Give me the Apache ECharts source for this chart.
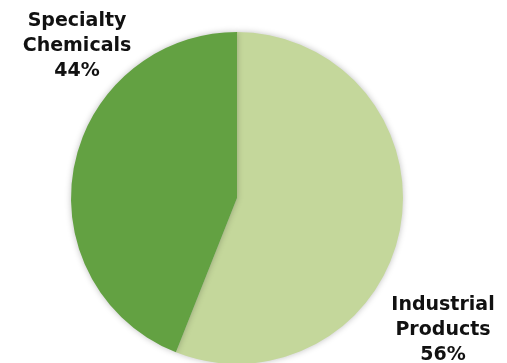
<!DOCTYPE html>
<html>
<head>
<meta charset="utf-8">
<script src="https://cdn.jsdelivr.net/npm/echarts@6/dist/echarts.min.js"></script>
<style>
  html, body { margin: 0; padding: 0; background: #fff; }
  #main { width: 507px; height: 363px; }
</style>
</head>
<body>
<div id="main"></div>
<script>
  const categories = ['Industrial\nProducts', 'Specialty\nChemicals'];
  const shares = [56, 44];
  const colors = ['#c4d79b', '#63a142'];

  // where each label sits (centre of the text block)
  const labelSpots = [[443, 330], [77, 46]];

  const chart = echarts.init(document.getElementById('main'));

  const option = {
    animation: false,
    series: [
      {
        type: 'pie',
        center: [237, 198],
        radius: 166,
        startAngle: 90,
        clockwise: true,
        data: categories.map((name, i) => ({
          name: name,
          value: shares[i],
          itemStyle: { color: colors[i] }
        })),
        itemStyle: {
          shadowBlur: 6,
          shadowColor: 'rgba(0,0,0,0.25)'
        },
        label: {
          show: true,
          position: 'outside',
          formatter: '{b}\n{d}%',
          color: '#111',
          fontFamily: 'DejaVu Sans',
          fontWeight: 'bold',
          fontSize: 19,
          lineHeight: 25,
          align: 'center',
          overflow: 'none',
          width: 180
        },
        labelLine: { show: false },
        labelLayout: function (params) {
          const p = labelSpots[params.dataIndex];
          return { x: p[0], y: p[1], align: 'center', verticalAlign: 'middle' };
        }
      }
    ]
  };

  chart.setOption(option);
</script>
</body>
</html>
